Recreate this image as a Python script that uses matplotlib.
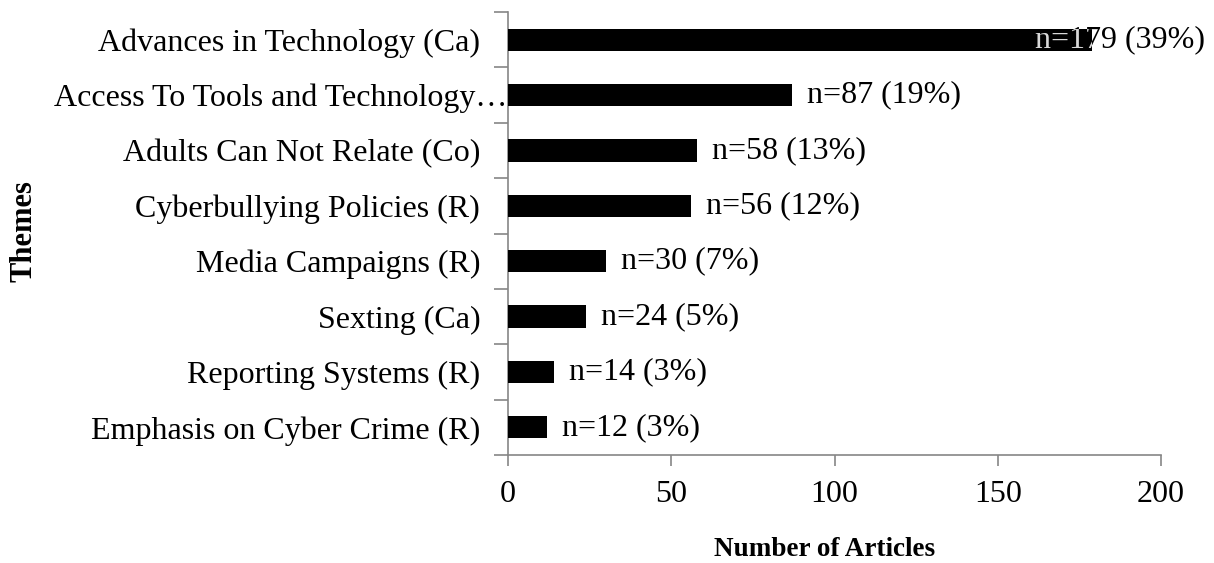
import matplotlib
matplotlib.use("Agg")
import matplotlib.pyplot as plt
import numpy as np
from matplotlib.transforms import ScaledTranslation

plt.rcParams['font.family'] = ['Liberation Serif', 'DejaVu Serif']

themes = ["Advances in Technology (Ca)",
          "Access To Tools and Technology\u2026",
          "Adults Can Not Relate (Co)",
          "Cyberbullying Policies (R)",
          "Media Campaigns (R)",
          "Sexting (Ca)",
          "Reporting Systems (R)",
          "Emphasis on Cyber Crime (R)"]
counts = [179, 87, 58, 56, 30, 24, 14, 12]
percents = [39, 19, 13, 12, 7, 5, 3, 3]
x_ticks = [0, 50, 100, 150, 200]

W, H = 1214, 563
fig = plt.figure(figsize=(W / 100, H / 100), dpi=100)
ax = fig.add_axes([508 / W, 1 - 455 / H, (1161 - 508) / W, (455 - 12) / H])

FS = 23
gray = '#868686'
ypos = np.arange(len(themes))
bars = ax.barh(ypos, counts, height=0.4, color='black', zorder=3)
ax.set_xlim(0, 200)
ax.set_ylim(len(themes) - 0.5, -0.5)

ax.set_xticks(x_ticks)
ax.set_xticklabels([str(t) for t in x_ticks], fontsize=FS)
ax.tick_params(axis='x', direction='out', length=8, width=1.2, color=gray, pad=10)

ax.set_yticks(ypos)
ax.set_yticklabels(themes, fontsize=FS)
ax.tick_params(axis='y', which='major', length=0, pad=20)
ax.set_yticks(np.arange(len(themes) + 1) - 0.5, minor=True)
ax.tick_params(axis='y', which='minor', direction='out', length=10, width=1.2, color=gray)

# the truncated label reaches up to the axis, as in the reference
lbl = ax.get_yticklabels()[1]
lbl.set_transform(lbl.get_transform() + ScaledTranslation(27 / 100, 0, fig.dpi_scale_trans))

for s in ['top', 'right']:
    ax.spines[s].set_visible(False)
for s in ['left', 'bottom']:
    ax.spines[s].set_color(gray)
    ax.spines[s].set_linewidth(1.2)

for i, (c, p) in enumerate(zip(counts, percents)):
    txt = f"n={c} ({p}%)"
    if c > 150:
        ax.annotate(txt, xy=(200, i), xytext=(44 * 0.72, 0), textcoords='offset points',
                    ha='right', va='center', fontsize=FS, color='black',
                    annotation_clip=False, zorder=2)
        t2 = ax.annotate(txt, xy=(200, i), xytext=(44 * 0.72, 0), textcoords='offset points',
                         ha='right', va='center', fontsize=FS, color='#d8d8d8',
                         annotation_clip=False, zorder=4)
        t2.set_clip_path(bars[i])
    else:
        ax.annotate(txt, xy=(c, i), xytext=(15 * 0.72, 0), textcoords='offset points',
                    ha='left', va='center', fontsize=FS, color='black',
                    annotation_clip=False, zorder=4)

fig.text(825 / W, 1 - 549 / H, "Number of Articles", ha='center', va='center',
         fontsize=19.5, fontweight='bold')
fig.text(24 / W, 1 - 231 / H, "Themes", ha='center', va='center', rotation=90,
         fontsize=22, fontweight='bold')

fig.savefig("out.png", dpi=100)
